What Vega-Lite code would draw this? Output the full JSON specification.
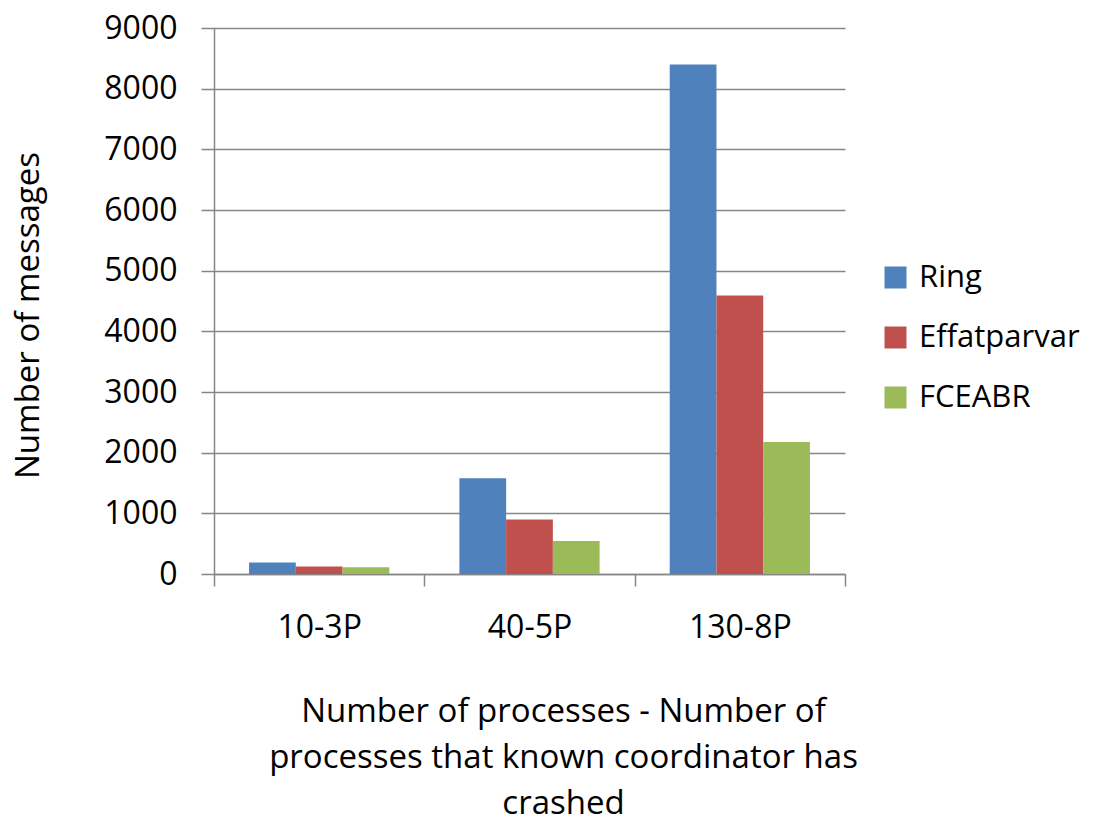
{
  "$schema": "https://vega.github.io/schema/vega-lite/v6.json",
  "width": 631,
  "height": 546,
  "autosize": {"type": "none"},
  "padding": {"left": 214, "top": 28, "right": 252, "bottom": 246},
  "background": "white",
  "config": {
    "view": {"stroke": null},
    "font": "Open Sans",
    "axis": {"labelFont": "Open Sans", "titleFont": "Open Sans", "labelColor": "#000000", "titleColor": "#000000", "titleFontWeight": "normal"},
    "legend": {"labelFont": "Open Sans"}
  },
  "data": {
    "values": [
      {"group": "10-3P", "algorithm": "Ring", "messages": 190},
      {"group": "10-3P", "algorithm": "Effatparvar", "messages": 125},
      {"group": "10-3P", "algorithm": "FCEABR", "messages": 110},
      {"group": "40-5P", "algorithm": "Ring", "messages": 1580},
      {"group": "40-5P", "algorithm": "Effatparvar", "messages": 900},
      {"group": "40-5P", "algorithm": "FCEABR", "messages": 545},
      {"group": "130-8P", "algorithm": "Ring", "messages": 8400},
      {"group": "130-8P", "algorithm": "Effatparvar", "messages": 4590},
      {"group": "130-8P", "algorithm": "FCEABR", "messages": 2175}
    ]
  },
  "mark": {"type": "bar"},
  "encoding": {
    "x": {
      "field": "group",
      "type": "nominal",
      "sort": ["10-3P", "40-5P", "130-8P"],
      "scale": {"paddingInner": 0, "paddingOuter": 0},
      "axis": {
        "title": ["Number of processes - Number of", "processes that known coordinator has", "crashed"],
        "titleFontSize": 33,
        "titleLineHeight": 46,
        "titleBaseline": "top",
        "titleX": 349,
        "titleY": 121,
        "labelAngle": 0,
        "labelFontSize": 32,
        "labelPadding": 26,
        "tickBand": "extent",
        "tickSize": 12,
        "tickColor": "#868686",
        "domainColor": "#868686",
        "domainWidth": 1.5,
        "tickWidth": 1.5
      }
    },
    "xOffset": {
      "field": "algorithm",
      "type": "nominal",
      "sort": ["Ring", "Effatparvar", "FCEABR"],
      "scale": {"paddingInner": 0, "paddingOuter": 0.75}
    },
    "y": {
      "field": "messages",
      "type": "quantitative",
      "scale": {"domain": [0, 9000], "nice": false},
      "axis": {
        "title": "Number of messages",
        "titleFontSize": 33,
        "titleBaseline": "middle",
        "titleX": -186,
        "titleY": 287,
        "titleAnchor": "middle",
        "values": [0, 1000, 2000, 3000, 4000, 5000, 6000, 7000, 8000, 9000],
        "format": "d",
        "labelFontSize": 32,
        "labelPadding": 24,
        "tickSize": 13,
        "tickColor": "#868686",
        "domainColor": "#868686",
        "domainWidth": 1.5,
        "tickWidth": 1.5,
        "grid": true,
        "gridColor": "#868686",
        "gridWidth": 1.5
      }
    },
    "color": {
      "field": "algorithm",
      "type": "nominal",
      "sort": ["Ring", "Effatparvar", "FCEABR"],
      "scale": {"domain": ["Ring", "Effatparvar", "FCEABR"], "range": ["#4F81BD", "#C0504D", "#9BBB59"]},
      "legend": {
        "title": null,
        "orient": "none",
        "legendX": 666,
        "legendY": 234,
        "symbolType": "square",
        "symbolSize": 484,
        "symbolStrokeWidth": 0,
        "labelFontSize": 31,
        "labelLimit": 400,
        "labelOffset": 8,
        "labelColor": "#000000",
        "rowPadding": 28
      }
    }
  }
}
